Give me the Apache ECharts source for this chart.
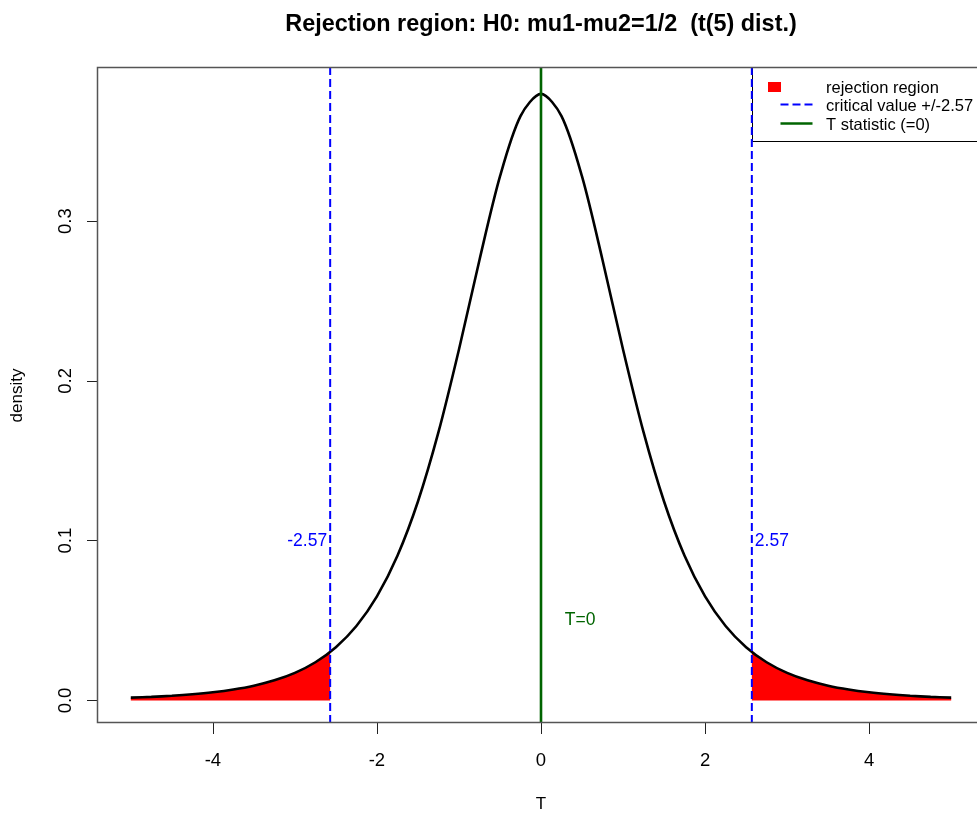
<!DOCTYPE html>
<html>
<head>
<meta charset="utf-8">
<script src="https://cdn.jsdelivr.net/npm/echarts@6/dist/echarts.min.js"></script>
<style>
  html, body { margin: 0; padding: 0; background: #fff; }
  #main { width: 977px; height: 814px; }
</style>
</head>
<body>
<div id="main"></div>
<script>
// t values and density
const tVals = [-5, -4.75, -4.5, -4.25, -4, -3.75, -3.5, -3.25, -3, -2.75, -2.5, -2.25, -2, -1.75, -1.5, -1.25, -1, -0.75, -0.5, -0.25,
  0, 0.25, 0.5, 0.75, 1, 1.25, 1.5, 1.75, 2, 2.25, 2.5, 2.75, 3, 3.25, 3.5, 3.75, 4, 4.25, 4.5, 4.75, 5];
const density = [0.00176, 0.00227, 0.00295, 0.00387, 0.00512, 0.00685, 0.00924, 0.01259, 0.01729, 0.02393, 0.03333, 0.04657, 0.06509, 0.09054, 0.12452, 0.16789, 0.21968, 0.27569, 0.32792, 0.36572,
  0.37961, 0.36572, 0.32792, 0.27569, 0.21968, 0.16789, 0.12452, 0.09054, 0.06509, 0.04657, 0.03333, 0.02393, 0.01729, 0.01259, 0.00924, 0.00685, 0.00512, 0.00387, 0.00295, 0.00227, 0.00176];
const critValue = 2.57;
const critDensity = 0.0304;
const tStat = 0;
const xTicks = [-4, -2, 0, 2, 4];
const yTicks = [0, 0.1, 0.2, 0.3];
// annotation texts and where they sit
const annText = ['-2.57', '2.57', 'T=0'];
const annX = [-2.57, 2.57, 0.29];
const annY = [0.1, 0.1, 0.05];

const yMin = -0.0141, yMax = 0.3958;
const font = 'Liberation Sans, Arial, sans-serif';

const curve = tVals.map((t, i) => [t, density[i]]);
const leftTail = curve.filter(p => p[0] < -critValue).concat([[-critValue, critDensity]]);
const rightTail = [[critValue, critDensity]].concat(curve.filter(p => p[0] > critValue));

const chart = echarts.init(document.getElementById('main'));

chart.setOption({
  animation: false,
  backgroundColor: '#fff',
  title: {
    text: 'Rejection region: H0: mu1-mu2=1/2  (t(5) dist.)',
    left: 536,
    textAlign: 'center',
    top: 8,
    textStyle: { fontFamily: font, fontSize: 23.4, fontWeight: 'bold', color: '#000' }
  },
  grid: {
    left: 98, top: 68, width: 886, height: 655,
    outerBoundsMode: 'none',
    show: false
  },
  xAxis: {
    type: 'value', min: -5.4, max: 5.4,
    name: 'T', nameLocation: 'middle', nameGap: 73,
    nameTextStyle: { fontFamily: font, fontSize: 17, color: '#000' },
    axisLine: { show: false, onZero: false },
    splitLine: { show: false },
    axisTick: { show: true, length: 11, customValues: xTicks, lineStyle: { color: '#222', width: 1 } },
    axisLabel: { customValues: xTicks, margin: 28, fontFamily: font, fontSize: 18.5, color: '#000' }
  },
  yAxis: {
    type: 'value', min: yMin, max: yMax,
    name: 'density', nameLocation: 'middle', nameGap: 72, nameRotate: 90,
    nameTextStyle: { fontFamily: font, fontSize: 17, color: '#000' },
    axisLine: { show: false, onZero: false },
    splitLine: { show: false },
    axisTick: { show: true, length: 11, customValues: yTicks, lineStyle: { color: '#222', width: 1 } },
    axisLabel: {
      customValues: yTicks, rotate: 90, margin: 23,
      fontFamily: font, fontSize: 18.5, color: '#000',
      formatter: v => v.toFixed(1)
    }
  },
  series: [
    {
      name: 'rejection region', type: 'line', data: leftTail, smooth: 0.3,
      symbol: 'none', lineStyle: { width: 0 }, color: 'red',
      areaStyle: { color: 'red', opacity: 1, origin: 0 }
    },
    {
      name: 'rejection region', type: 'line', data: rightTail, smooth: 0.3,
      symbol: 'none', lineStyle: { width: 0 }, color: 'red',
      areaStyle: { color: 'red', opacity: 1, origin: 0 }
    },
    {
      name: 'density', type: 'line', data: curve, smooth: 0.3,
      symbol: 'none', lineStyle: { color: '#000', width: 2.6 }
    },
    {
      name: 'critical value +/-2.57', type: 'line', data: [[-critValue, yMin], [-critValue, yMax]],
      symbol: 'none', lineStyle: { color: '#0000ff', width: 2, type: [8, 4] }
    },
    {
      name: 'critical value +/-2.57', type: 'line', data: [[critValue, yMin], [critValue, yMax]],
      symbol: 'none', lineStyle: { color: '#0000ff', width: 2, type: [8, 4] }
    },
    {
      name: 'T statistic (=0)', type: 'line', data: [[tStat, yMin], [tStat, yMax]],
      symbol: 'none', lineStyle: { color: '#006400', width: 2.6 }
    },
    {
      name: 'notes', type: 'scatter', symbolSize: 0,
      itemStyle: { opacity: 1 },
      data: annText.map((s, i) => ({
        value: [annX[i], annY[i]],
        label: {
          show: true, formatter: s, opacity: 1,
          position: i === 0 ? 'left' : 'right', distance: i === 2 ? 0 : 3,
          color: i === 2 ? '#006400' : '#0000ff',
          fontFamily: font, fontSize: 17.5
        }
      }))
    }
  ],
  graphic: [
    // plot frame, runs past the right edge like the original
    {
      type: 'rect', silent: true, z: 10,
      shape: { x: 97.5, y: 67.5, width: 886, height: 655 },
      style: { fill: 'none', stroke: '#555', lineWidth: 1.5 }
    },
    {
      type: 'group', x: 752.5, y: 67.5, silent: true, z: 11,
      children: [
        { type: 'rect', shape: { x: 0, y: 0, width: 240, height: 74 }, style: { fill: '#fff', stroke: '#000', lineWidth: 1 } },
        { type: 'rect', shape: { x: 15.5, y: 14.5, width: 13, height: 10 }, style: { fill: 'red' } },
        { type: 'line', shape: { x1: 28, y1: 37, x2: 60, y2: 37 }, style: { stroke: '#0000ff', lineWidth: 2, lineDash: [8, 4] } },
        { type: 'line', shape: { x1: 28, y1: 56, x2: 60, y2: 56 }, style: { stroke: '#006400', lineWidth: 2.6 } },
        { type: 'text', x: 73.5, y: 20.5, style: { text: 'rejection region', fill: '#000', font: '16.5px ' + font, textVerticalAlign: 'middle' } },
        { type: 'text', x: 73.5, y: 39, style: { text: 'critical value +/-2.57', fill: '#000', font: '16.5px ' + font, textVerticalAlign: 'middle' } },
        { type: 'text', x: 73.5, y: 57.5, style: { text: 'T statistic (=0)', fill: '#000', font: '16.5px ' + font, textVerticalAlign: 'middle' } }
      ]
    }
  ]
});
</script>
</body>
</html>
